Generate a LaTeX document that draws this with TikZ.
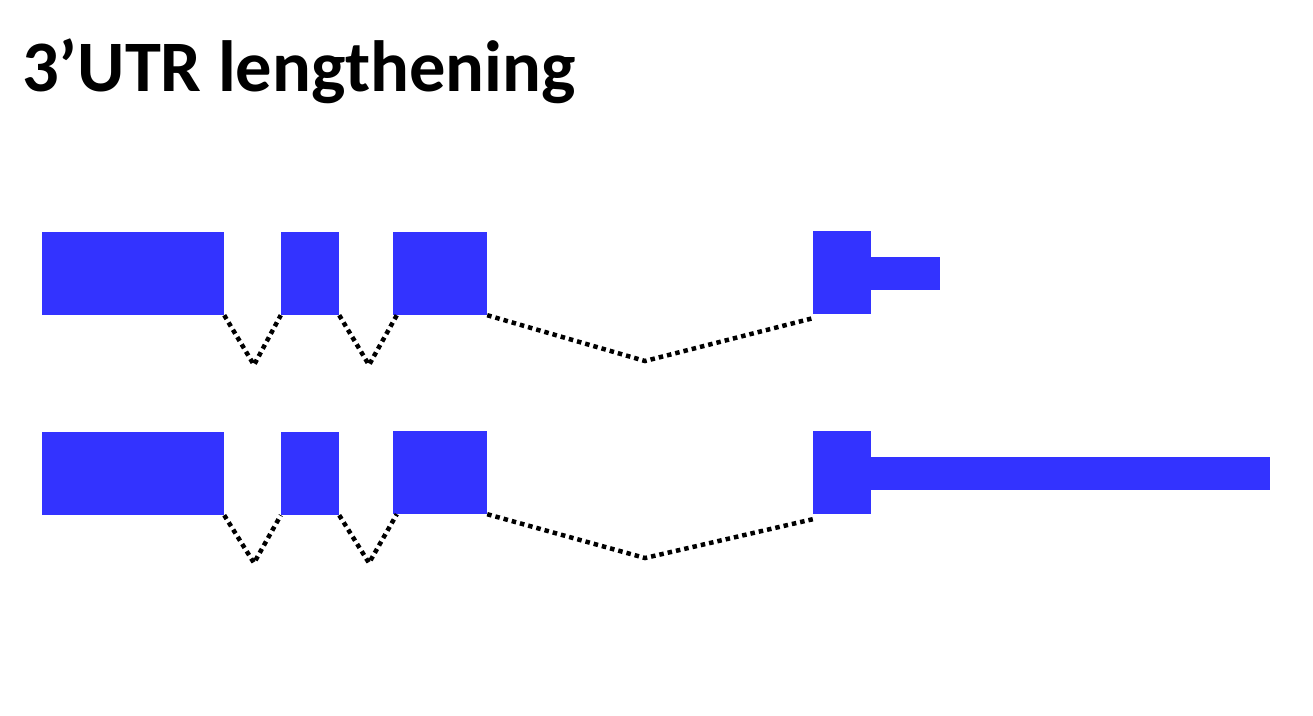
\documentclass[tikz,border=0pt]{standalone}
\usepackage{fontspec}
\setmainfont{Carlito}
\definecolor{exonblue}{HTML}{3333FF}
\begin{document}
\begin{tikzpicture}[x=1pt,y=-1pt,
  exon/.style={fill=exonblue,draw=none,inner sep=0pt,rectangle},
  intron/.style={line width=4.5pt,dash pattern=on 4.5pt off 4pt,black},
  title/.style={font=\fontsize{72.5}{86}\selectfont\bfseries,inner sep=0pt,anchor=base west}]
\useasboundingbox (0,0) rectangle (1313,715);
\node[title] (t) at (22,91) {3’UTR lengthening};
% row 1
\node[exon,minimum width=182pt,minimum height=83pt] (a1) at (133,273.5) {};
\node[exon,minimum width=58pt,minimum height=83pt] (a2) at (310,273.5) {};
\node[exon,minimum width=94pt,minimum height=83pt] (a3) at (440,273.5) {};
\node[exon,minimum width=58pt,minimum height=83pt] (a4) at (842,272.5) {};
\node[exon,minimum width=70pt,minimum height=33pt,anchor=west] (a5) at (870,273.5) {};
\coordinate (p1) at (254,365);
\coordinate (p2) at (369,365);
\coordinate (p3) at (645,361);
\draw[intron] (a1.south east) -- (p1) -- (a2.south west);
\draw[intron] (a2.south east) -- (p2) -- ([xshift=4pt]a3.south west);
\draw[intron] (a3.south east) -- (p3) -- ([yshift=-4pt]a4.south west);
% row 2
\node[exon,minimum width=182pt,minimum height=83pt] (b1) at (133,473.5) {};
\node[exon,minimum width=58pt,minimum height=83pt] (b2) at (310,473.5) {};
\node[exon,minimum width=94pt,minimum height=83pt] (b3) at (440,472.5) {};
\node[exon,minimum width=58pt,minimum height=83pt] (b4) at (842,472.5) {};
\node[exon,minimum width=400pt,minimum height=33pt,anchor=west] (b5) at (870,473.5) {};
\coordinate (q1) at (254,563);
\coordinate (q2) at (369,563);
\coordinate (q3) at (645,558);
\draw[intron] (b1.south east) -- (q1) -- (b2.south west);
\draw[intron] (b2.south east) -- (q2) -- ([xshift=4pt]b3.south west);
\draw[intron] (b3.south east) -- (q3) -- ([yshift=-5pt]b4.south west);
\end{tikzpicture}
\end{document}
